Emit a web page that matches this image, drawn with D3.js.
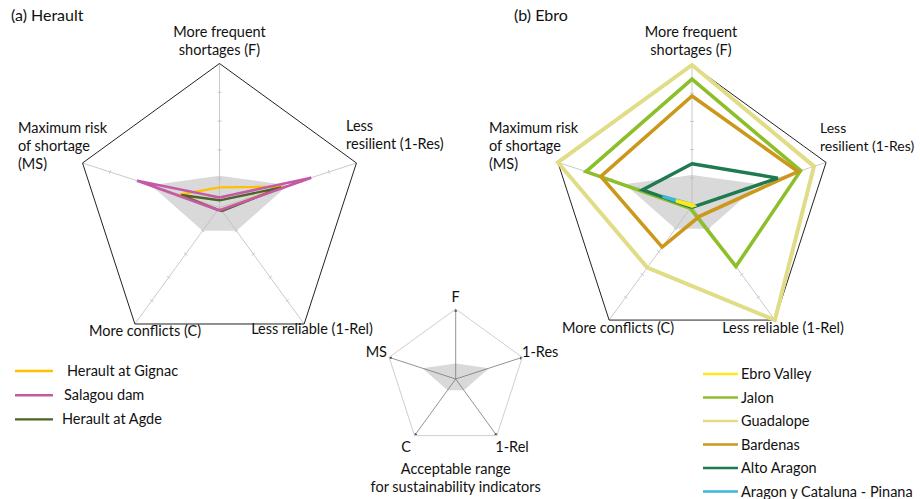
<!DOCTYPE html>
<html>
<head>
<meta charset="utf-8">
<script src="https://cdn.jsdelivr.net/npm/d3@7"></script>
<style>
  body { margin: 0; background: #fff; }
  text { font-family: Lato, "Open Sans", sans-serif; fill: #111; }
</style>
</head>
<body>
<svg id="chart" width="920" height="499"></svg>
<script>
// axes, clockwise from the top
const axes = ['F', '1-Res', '1-Rel', 'C', 'MS'];
const acceptable = [0.22, 0.5, 0.2, 0.2, 0.5];

// (a) Herault
const heraultNames = ['Herault at Gignac', 'Salagou dam', 'Herault at Agde'];
const heraultColors = ['#ffc000', '#c45aa3', '#4f6228'];
const gignac = [0.14, 0.47, 0.02, 0.02, 0.29];
const agde = [0.05, 0.45, 0.03, 0.02, 0.28];
const salagou = [0.07, 0.67, 0.02, 0.02, 0.6];

// (b) Ebro
const ebroNames = ['Ebro Valley', 'Jalon', 'Guadalope', 'Bardenas', 'Alto Aragon', 'Aragon y Cataluna - Pinana'];
const ebroColors = ['#ffe81a', '#8dbf2a', '#e1dc86', '#cc981c', '#1f7a4f', '#3fb6d6'];
const ebroValley = [0.01, 0.01, 0, 0, 0.12];
const jalon = [0.9, 0.81, 0.53, 0.02, 0.79];
const guadalope = [1.0, 0.91, 1.0, 0.54, 1.0];
const bardenas = [0.78, 0.79, 0.09, 0.36, 0.68];
const altoAragon = [0.3, 0.64, 0.01, 0.01, 0.37];
const pinana = [0.01, 0.01, 0, 0, 0.22];

const tickValues = [0.2, 0.4, 0.6, 0.8];

const svg = d3.select('#chart');
const angle = i => i * 2 * Math.PI / axes.length;

function radar(cx, cy, R, cfg) {
    const g = svg.append('g').attr('transform', `translate(${cx},${cy})`);
    const r = d3.scaleLinear().domain([0, 1]).range([0, R]);
    const line = d3.lineRadial()
        .angle((d, i) => angle(i))
        .radius(d => r(d))
        .curve(d3.curveLinearClosed);
    const px = (v, i) => r(v) * Math.sin(angle(i));
    const py = (v, i) => -r(v) * Math.cos(angle(i));

    // acceptable range
    g.append('path').attr('d', line(acceptable))
        .attr('fill', '#d9d9d9').attr('stroke', 'none');

    // axes
    g.selectAll('.axis').data(axes).join('line').attr('class', 'axis')
        .attr('x1', 0).attr('y1', 0)
        .attr('x2', (d, i) => px(1, i)).attr('y2', (d, i) => py(1, i))
        .attr('stroke', cfg.axisColor).attr('stroke-width', 0.8)
        .attr('marker-end', cfg.arrows ? 'url(#arrow)' : null);

    if (cfg.ticks) {
        axes.forEach((a, i) => {
            const ux = Math.sin(angle(i)), uy = -Math.cos(angle(i));
            g.append('g').selectAll('line').data(tickValues).join('line')
                .attr('x1', t => r(t) * ux - uy * 2).attr('y1', t => r(t) * uy + ux * 2)
                .attr('x2', t => r(t) * ux + uy * 2).attr('y2', t => r(t) * uy - ux * 2)
                .attr('stroke', '#bbb').attr('stroke-width', 0.8);
        });
    }

    // outline
    g.append('path').attr('d', line(axes.map(() => 1)))
        .attr('fill', 'none').attr('stroke', cfg.outline).attr('stroke-width', 1);

    // series
    (cfg.series || []).forEach(s => {
        g.append('path').attr('d', line(s.values))
            .attr('fill', 'none').attr('stroke', s.color)
            .attr('stroke-width', s.width).attr('stroke-linejoin', 'miter');
    });
    return g;
}

svg.append('defs').append('marker').attr('id', 'arrow')
    .attr('viewBox', '0 0 6 6').attr('refX', 5).attr('refY', 3)
    .attr('markerWidth', 4).attr('markerHeight', 4).attr('orient', 'auto')
    .append('path').attr('d', 'M0,0L6,3L0,6Z').attr('fill', '#555');

// (a) Herault
radar(219.5, 207.5, 144, {
    axisColor: '#bdbdbd', outline: '#222', ticks: true,
    series: [
        { values: gignac, color: heraultColors[0], width: 2.4 },
        { values: agde, color: heraultColors[2], width: 2.4 },
        { values: salagou, color: heraultColors[1], width: 2.6 }
    ]
});

// (b) Ebro
radar(692, 206, 141, {
    axisColor: '#bdbdbd', outline: '#222', ticks: true,
    series: [
        { values: guadalope, color: ebroColors[2], width: 4 },
        { values: jalon, color: ebroColors[1], width: 3.6 },
        { values: bardenas, color: ebroColors[3], width: 3.6 },
        { values: altoAragon, color: ebroColors[4], width: 3.4 },
        { values: pinana, color: ebroColors[5], width: 3.4 },
        { values: ebroValley, color: ebroColors[0], width: 3.4 }
    ]
});

// key radar
radar(455.7, 379, 70, { axisColor: '#777', outline: '#cfcfcf', arrows: true });

// labels
function label(x, y, lines, anchor, size) {
    const t = svg.append('text').attr('x', x).attr('y', y)
        .attr('text-anchor', anchor || 'start')
        .style('font-size', (size || 14.5) + 'px');
    lines.forEach((s, i) => t.append('tspan').attr('x', x).attr('dy', i ? 18 : 0).text(s));
}
label(11, 21, ['(a) Herault'], 'start', 16);
label(219.5, 37, ['More frequent', 'shortages (F)'], 'middle');
label(346, 131, ['Less', 'resilient (1-Res)']);
label(18, 133, ['Maximum risk', 'of shortage', '(MS)']);
label(145, 336, ['More conflicts (C)'], 'middle');
label(312, 334, ['Less reliable (1-Rel)'], 'middle');

label(514, 21, ['(b) Ebro'], 'start', 16);
label(691, 37, ['More frequent', 'shortages (F)'], 'middle');
label(820, 133, ['Less', 'resilient (1-Res)'], 'start', 14);
label(489, 133, ['Maximum risk', 'of shortage', '(MS)']);
label(618, 333, ['More conflicts (C)'], 'middle');
label(783, 333, ['Less reliable (1-Rel)'], 'middle');

label(455.7, 302, ['F'], 'middle');
label(522, 357, ['1-Res']);
label(387, 357, ['MS'], 'end');
label(406, 452, ['C'], 'middle');
label(512, 452, ['1-Rel'], 'middle');
label(455.7, 474, ['Acceptable range', 'for sustainability indicators'], 'middle');

// legends
function legend(x0, y0, step, names, colors, textX, width) {
    const lg = svg.append('g');
    const rows = lg.selectAll('g').data(names).join('g')
        .attr('transform', (d, i) => `translate(0,${y0 + i * step})`);
    rows.append('line').attr('x1', x0).attr('x2', x0 + width).attr('y1', 0).attr('y2', 0)
        .attr('stroke', (d, i) => colors[i]).attr('stroke-width', 2.4);
    rows.append('text').attr('x', (d, i) => textX[i]).attr('y', 5)
        .style('font-size', '14.5px').text(d => d);
}
legend(15, 371, 24.2, heraultNames, heraultColors, [67, 64, 62], 38);
legend(703, 374, 23.5, ebroNames, ebroColors, ebroNames.map(() => 741), 35);
</script>
</body>
</html>
